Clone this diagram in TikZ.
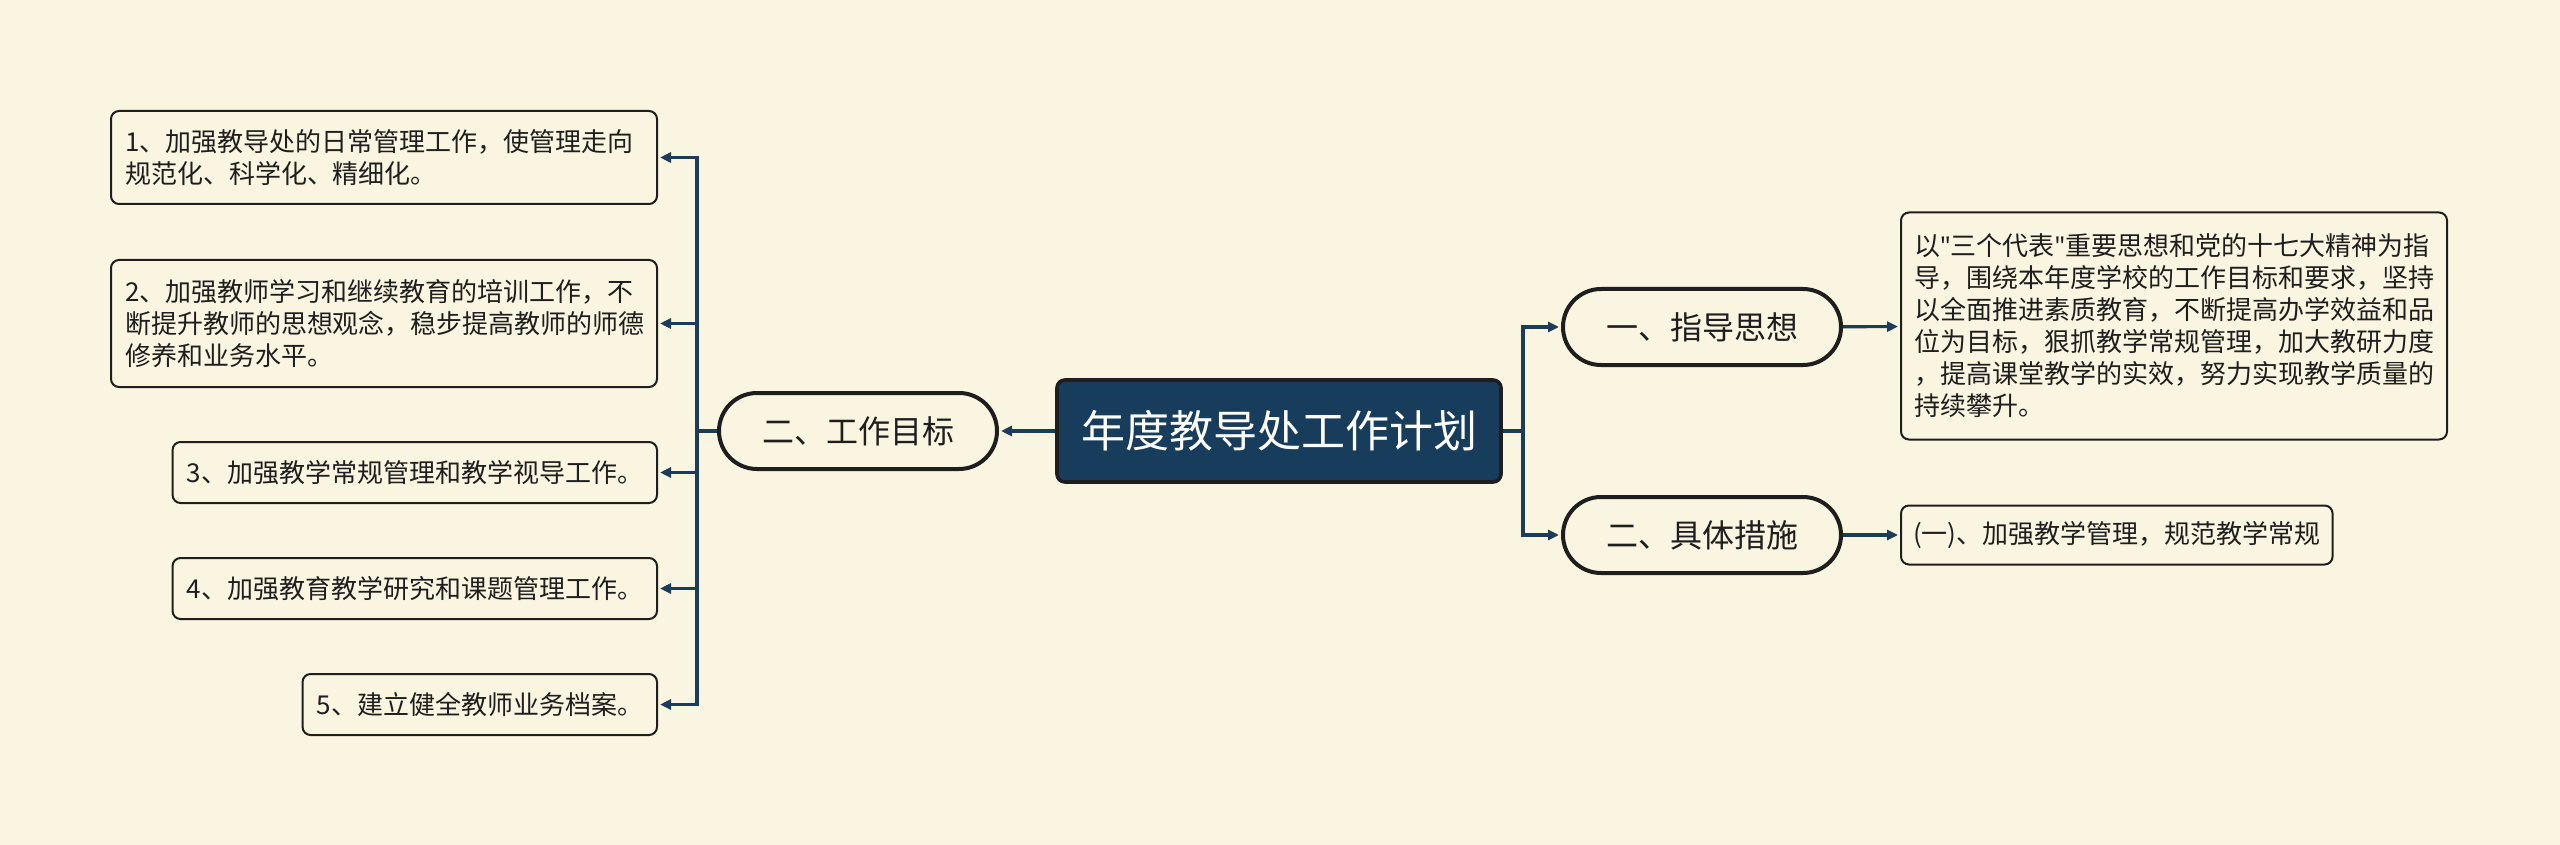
\documentclass[tikz,border=0pt]{standalone}
\usepackage{fontspec}
\setmainfont{Noto Sans CJK SC}
\newfontfamily\latinfont{Noto Sans}
\usetikzlibrary{arrows.meta,positioning}
\definecolor{mybg}{RGB}{250,245,225}
\definecolor{myblue}{RGB}{24,61,92}
\definecolor{myline}{RGB}{28,60,92}
\definecolor{mydark}{RGB}{30,30,30}

\begin{document}
\begin{tikzpicture}[
  x=0.5pt, y=-0.5pt,
  every node/.style={font=\fontsize{13}{16}\selectfont, align=left, text=mydark},
  root/.style={draw=mydark, fill=myblue, rounded corners=4pt, line width=1.8pt, minimum width=222pt, minimum height=51pt, font=\fontsize{22}{26}\selectfont, text=white, align=center},
  branch/.style={draw=mydark, fill=mybg, rounded corners=19pt, line width=2pt, minimum width=139pt, minimum height=38pt, font=\fontsize{16}{19}\selectfont, align=center},
  leaf/.style={draw=mydark, fill=mybg, rounded corners=4pt, line width=1pt, inner xsep=7pt, minimum height=30.5pt},
  arr/.style={-{Triangle[length=5.5pt,width=5pt]}, line width=1.6pt, myline, shorten >=1pt}
]
\useasboundingbox (0,0) rectangle (2560,845);
\fill[mybg] (0,0) rectangle (2560,845);

\node[root] (root) at (1279,431) {年度教导处工作计划};

\node[branch] (goal) at (858,431) {二、工作目标};
\node[branch] (guide) at (1702,327) {一、指导思想};
\node[branch] (measure) at (1702,535) {二、具体措施};

% left side
\node[leaf, anchor=east, text width=259pt, minimum height=46.5pt] (leaf1) at (658,157.5) {1、加强教导处的日常管理工作，使管理走向\\规范化、科学化、精细化。};
\node[leaf, anchor=east, text width=259pt, minimum height=63.5pt] (leaf2) at (658,323.5) {2、加强教师学习和继续教育的培训工作，不\\断提升教师的思想观念，稳步提高教师的师德\\修养和业务水平。};
\node[leaf, anchor=east] (leaf3) at (658,472.5) {3、加强教学常规管理和教学视导工作。};
\node[leaf, anchor=east] (leaf4) at (658,588.5) {4、加强教育教学研究和课题管理工作。};
\node[leaf, anchor=east] (leaf5) at (658,704.5) {5、建立健全教师业务档案。};

% right side
\node[leaf, anchor=west, text width=260pt, minimum height=113.5pt, inner xsep=6.5pt] (guideTxt) at (1900,326) {以{\latinfont"}三个代表{\latinfont"}重要思想和党的十七大精神为指\\导，围绕本年度学校的工作目标和要求，坚持\\以全面推进素质教育，不断提高办学效益和品\\位为目标，狠抓教学常规管理，加大教研力度\\，提高课堂教学的实效，努力实现教学质量的\\持续攀升。};
\node[leaf, anchor=west, minimum height=29.5pt, inner xsep=6pt] (measureTxt) at (1900,535) {(一)、加强教学管理，规范教学常规};

\coordinate (lbus) at (697,431);
\coordinate (rbus) at (1523,431);

\draw[arr] (root) -- (goal);
\foreach \n in {1,...,5}
  \draw[arr] (goal.west) -- (lbus) |- (leaf\n.east);
\draw[arr] (root.east) -- (rbus) |- (guide.west);
\draw[arr] (root.east) -- (rbus) |- (measure.west);
\draw[arr] (guide) -- (guideTxt);
\draw[arr] (measure) -- (measureTxt);
\end{tikzpicture}
\end{document}
